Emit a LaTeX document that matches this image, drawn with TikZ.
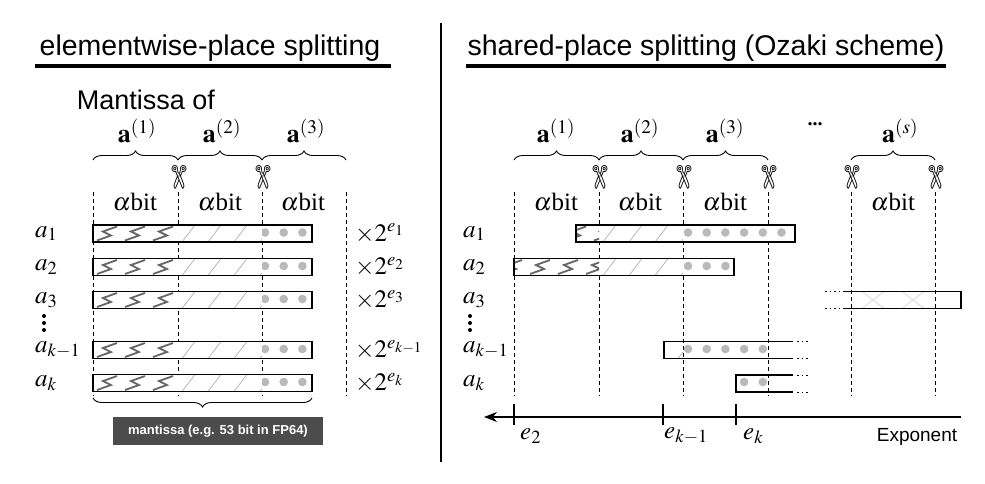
\documentclass[tikz,border=0pt]{standalone}
\usepackage{fix-cm}
\usepackage{mathptmx}
\usepackage{fontspec}
\setmainfont{Liberation Serif}
\newfontfamily\hsf{Liberation Sans}
\newfontfamily\djvs{DejaVu Sans}
\usetikzlibrary{decorations.pathreplacing,arrows.meta}
\newcommand\hatchseg[4]{% x0 x1 yc first-offset
 \begin{scope}\clip (#1,#3-8.5) rectangle (#2,#3+8.5);
 \foreach \t in {0,26,...,130}{\draw[gray!70,line width=0.6] ({#1+#4+\t},{#3+8.5}) -- ({#1+#4+\t+13},{#3-8.5});}
 \end{scope}}
\newcommand\zigseg[4]{% x0 x1 yc first-offset
 \begin{scope}\clip (#1,#3-8.5) rectangle (#2,#3+8.5);
 \foreach \t in {0,28,...,84}{\draw[gray!80!black,line width=1.8] ({#1+#4+\t},{#3+7}) -- ({#1+#4+\t+14},{#3+2}) -- ({#1+#4+\t+6},{#3-2}) -- ({#1+#4+\t+20},{#3-7});}
 \end{scope}}
\tikzset{
 bar/.style={draw=black,line width=1.1},
 dsh/.style={dashed,line width=1,dash pattern=on 4pt off 3pt},
 br/.style={decorate,decoration={brace,amplitude=9pt},line width=0.9},
 lab/.style={font=\fontsize{25}{27}\selectfont,anchor=west,inner sep=0},
 hdr/.style={font=\fontsize{26}{28}\selectfont},
 ab/.style={font=\fontsize{25}{27}\selectfont},
 tit/.style={font=\hsf\fontsize{28.5}{32}\selectfont},
 sc/.style={font=\djvs\fontsize{30}{32}\selectfont,rotate=-90,inner sep=0},
 dot/.style={fill=gray!55,draw=none},
 vd/.style={fill=black,draw=none},
}
\begin{document}
\begin{tikzpicture}[x=1pt,y=-1pt]
\useasboundingbox (0,0) rectangle (985,483);
% titles
\node[tit] (t1) at (210,48) {elementwise-place splitting};
\node[tit] (t2) at (706,48) {shared-place splitting (Ozaki scheme)};
\draw[line width=4] (35,66) -- (391,66);
\draw[line width=4] (466,66) -- (946,66);
\draw[line width=2] (441,23) -- (441,462);
% ---------- left panel
\node[font=\hsf\fontsize{27}{30}\selectfont] (mo) at (146,100) {Mantissa of};
\foreach \x/\i in {137/1,222/2,306/3}{\node[hdr] at (\x,131) {$\mathbf{a}^{(\i)}$};}
\draw[br] (93,160) -- (178,160);
\draw[br] (178,160) -- (262,160);
\draw[br] (262,160) -- (346,160);
\node[sc] (s1) at (178,177) {✄};
\node[sc] (s2) at (262,177) {✄};
\foreach \x in {135,220,303}{\node[ab] at (\x,202) {$\alpha$bit};}
\foreach \x in {93,178,262,346}{\draw[dsh] (\x,192) -- (\x,396);}
\foreach \y/\l/\e in {233.5/1/1,267/2/2,300/3/3,350/{k-1}/{k-1},383/k/k}{
  \fill[white] (93,\y-8.5) rectangle (312,\y+8.5);
  \zigseg{93}{178}{\y}{4}
  \hatchseg{178}{262}{\y}{4}
  \begin{scope}\clip (262,\y-8.5) rectangle (312,\y+8.5);
   \foreach \d in {265,283.7,302.4}{\fill[dot] (\d,\y-1) circle (4.3);}
  \end{scope}
  \draw[bar] (93,\y-8.5) rectangle (312,\y+8.5);
  \node[lab] at (35,\y) {$a_{\l}$};
  \node[lab] at (355,\y) {$\times2^{e_{\e}}$};
}
\foreach \v in {316,323,330}{\fill[vd] (44,\v) circle (2);}
\draw[br] (312,398) -- (93,398);
\node[fill=black!70,text=white,font=\hsf\bfseries\fontsize{13}{15}\selectfont,minimum width=210,minimum height=28,inner sep=0] (mb) at (218,431) {mantissa (e.g. 53 bit in FP64)};
% ---------- right panel
\foreach \x/\i in {556/1,640/2,725/3,900/s}{\node[hdr] at (\x,131) {$\mathbf{a}^{(\i)}$};}
\node[font=\fontsize{20}{22}\selectfont\bfseries] at (815,124) {...};
\draw[br] (514,160) -- (599,160);
\draw[br] (599,160) -- (683,160);
\draw[br] (683,160) -- (768,160);
\draw[br] (851,160) -- (935,160);
\foreach \x in {599,683,768,851,935}{\node[sc] at (\x,177) {✄};}
\foreach \x in {556,640,725,893}{\node[ab] at (\x,202) {$\alpha$bit};}
\foreach \x in {514,599,683,768,851,935}{\draw[dsh] (\x,192) -- (\x,396);}
% a1
\fill[white] (576,225) rectangle (795,242);
\zigseg{576}{599}{233.5}{-10}
\hatchseg{599}{683}{233.5}{4}
\foreach \d in {688,706.7,725.4,744.1,762.8,781.5}{\fill[dot] (\d,232.5) circle (4.3);}
\draw[bar] (576,225) rectangle (795,242);
% a2
\fill[white] (514,258.5) rectangle (734,275.5);
\zigseg{514}{599}{267}{-12}
\hatchseg{599}{683}{267}{4}
\foreach \d in {688,706.7,725.4}{\fill[dot] (\d,266) circle (4.3);}
\draw[bar] (514,258.5) rectangle (734,275.5);
% a3
\begin{scope}\clip (843,291.5) rectangle (961,308.5);
 \foreach \c in {873,913}{\draw[gray!25,line width=1] (\c-11,291.5) -- (\c+11,308.5) (\c-11,308.5) -- (\c+11,291.5);}
\end{scope}
\draw[bar] (843,291.5) -- (961,291.5) -- (961,308.5) -- (843,308.5);
\draw[line width=1,dash pattern=on 1.5pt off 3pt] (825,291.5) -- (843,291.5) (825,308.5) -- (843,308.5);
% ak-1
\hatchseg{664}{683}{350}{-12}
\foreach \d in {688,706.7,725.4,744.1,762.8}{\fill[dot] (\d,349) circle (4.3);}
\draw[bar] (793,341.5) -- (664,341.5) -- (664,358.5) -- (793,358.5);
\draw[line width=1,dash pattern=on 1.5pt off 3pt] (797,341.5) -- (810,341.5) (797,358.5) -- (810,358.5);
% ak
\foreach \d in {744.1,762.8}{\fill[dot] (\d,382) circle (4.3);}
\draw[bar] (793,375) -- (736,375) -- (736,392) -- (793,392);
\draw[line width=1,dash pattern=on 1.5pt off 3pt] (797,375) -- (810,375) (797,392) -- (810,392);
\foreach \y/\l in {233.5/1,267/2,300/3,350/{k-1},383/k}{\node[lab] at (463,\y) {$a_{\l}$};}
\foreach \v in {316,323,330}{\fill[vd] (470,\v) circle (2);}
% axis
\coordinate (ax1) at (961,417);
\coordinate (ax0) at (484,417);
\draw[line width=1.2,-{Stealth[length=13pt,width=10pt]}] (ax1) -- (ax0);
\foreach \x in {514,663,736}{\draw[line width=1.2] (\x,404) -- (\x,425);}
\node[lab] at (520,436) {$e_2$};
\node[lab] at (664,436) {$e_{k-1}$};
\node[lab] at (743,436) {$e_k$};
\node[font=\hsf\fontsize{19}{21}\selectfont] (ex) at (917,437) {Exponent};
\end{tikzpicture}
\end{document}
